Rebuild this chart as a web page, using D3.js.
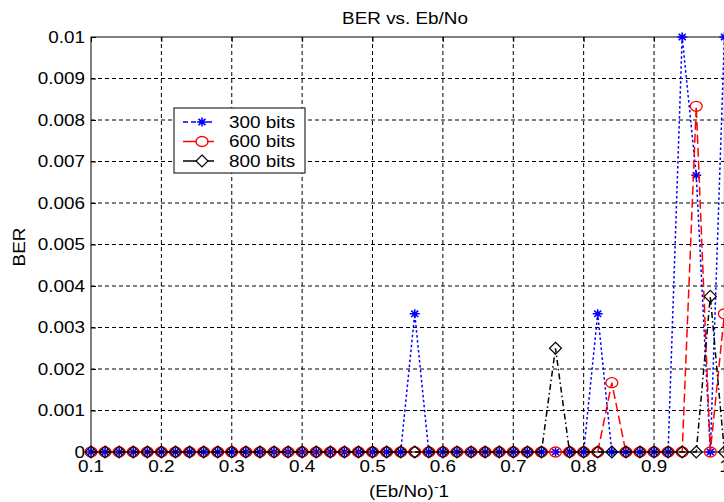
<!DOCTYPE html>
<html>
<head>
<meta charset="utf-8">
<script src="https://cdn.jsdelivr.net/npm/d3@7"></script>
<style>
  html, body { margin: 0; padding: 0; background: #fff; }
  text { font-family: "Liberation Sans", Arial, sans-serif; fill: #000; }
</style>
</head>
<body>
<div id="chart"></div>
<script>
// valeurs
const ebnoInv = [0.10, 0.12, 0.14, 0.16, 0.18, 0.20, 0.22, 0.24, 0.26, 0.28,
                 0.30, 0.32, 0.34, 0.36, 0.38, 0.40, 0.42, 0.44, 0.46, 0.48,
                 0.50, 0.52, 0.54, 0.56, 0.58, 0.60, 0.62, 0.64, 0.66, 0.68,
                 0.70, 0.72, 0.74, 0.76, 0.78, 0.80, 0.82, 0.84, 0.86, 0.88,
                 0.90, 0.92, 0.94, 0.96, 0.98, 1.00];
const ber300 = [0, 0, 0, 0, 0, 0, 0, 0, 0, 0,
                0, 0, 0, 0, 0, 0, 0, 0, 0, 0,
                0, 0, 0, 0.00333, 0, 0, 0, 0, 0, 0,
                0, 0, 0, 0, 0, 0, 0.00333, 0, 0, 0,
                0, 0, 0.01, 0.00667, 0, 0.01];
const ber600 = [0, 0, 0, 0, 0, 0, 0, 0, 0, 0,
                0, 0, 0, 0, 0, 0, 0, 0, 0, 0,
                0, 0, 0, 0, 0, 0, 0, 0, 0, 0,
                0, 0, 0, 0, 0, 0, 0, 0.00167, 0, 0,
                0, 0, 0, 0.00833, 0, 0.00333];
const ber800 = [0, 0, 0, 0, 0, 0, 0, 0, 0, 0,
                0, 0, 0, 0, 0, 0, 0, 0, 0, 0,
                0, 0, 0, 0, 0, 0, 0, 0, 0, 0,
                0, 0, 0, 0.0025, 0, 0, 0, 0, 0, 0,
                0, 0, 0, 0, 0.00375, 0];
const seriesNames = ['300 bits', '600 bits', '800 bits'];
const xTicks = [0.1, 0.2, 0.3, 0.4, 0.5, 0.6, 0.7, 0.8, 0.9, 1.0];
const xTickLabels = ['0.1', '0.2', '0.3', '0.4', '0.5', '0.6', '0.7', '0.8', '0.9', '1'];
const yTicks = [0, 0.001, 0.002, 0.003, 0.004, 0.005, 0.006, 0.007, 0.008, 0.009, 0.01];
const yTickLabels = ['0', '0.001', '0.002', '0.003', '0.004', '0.005', '0.006', '0.007', '0.008', '0.009', '0.01'];

const width = 724, height = 502;
const mLeft = 91, mTop = 37, mBottom = 452, mRight = 724.4;
const stretch = 1.18; // le texte de la figure est un peu étiré en largeur

const svg = d3.select('#chart').append('svg')
  .attr('width', width).attr('height', height)
  .attr('viewBox', [0, 0, width, height]);

const x = d3.scaleLinear().domain([0.1, 1.0]).range([mLeft, mRight]);
const y = d3.scaleLinear().domain([0, 0.01]).range([mBottom, mTop]);

function label(x0, y0, str, anchor, size, rotate) {
  const g = svg.append('g')
    .attr('transform', `translate(${x0},${y0})` + (rotate ? ` rotate(${rotate})` : '') + ` scale(${stretch},1)`);
  return g.append('text')
    .attr('text-anchor', anchor)
    .attr('font-size', size)
    .text(str);
}

// grille
svg.append('g').selectAll('line')
  .data(xTicks.filter(d => d > 0.1 && d < 1.0))
  .join('line')
  .attr('x1', d => x(d)).attr('x2', d => x(d))
  .attr('y1', mTop).attr('y2', mBottom)
  .attr('stroke', '#000').attr('stroke-dasharray', '4,3');
svg.append('g').selectAll('line')
  .data(yTicks.filter(d => d > 0 && d < 0.01))
  .join('line')
  .attr('x1', mLeft).attr('x2', mRight)
  .attr('y1', d => y(d)).attr('y2', d => y(d))
  .attr('stroke', '#000').attr('stroke-dasharray', '4,3');

// cadre et graduations intérieures
svg.append('rect')
  .attr('x', mLeft).attr('y', mTop)
  .attr('width', mRight - mLeft).attr('height', mBottom - mTop)
  .attr('fill', 'none').attr('stroke', '#000');

const axisLeft = svg.append('g').attr('transform', `translate(${mLeft},0)`)
  .call(d3.axisLeft(y).tickValues(yTicks).tickSize(-5).tickFormat(''));
axisLeft.select('.domain').remove();
const axisBottom = svg.append('g').attr('transform', `translate(0,${mBottom})`)
  .call(d3.axisBottom(x).tickValues(xTicks).tickSize(-5).tickFormat(''));
axisBottom.select('.domain').remove();
const axisTop = svg.append('g').attr('transform', `translate(0,${mTop})`)
  .call(d3.axisTop(x).tickValues(xTicks).tickSize(-5).tickFormat(''));
axisTop.select('.domain').remove();
svg.selectAll('.tick line').attr('stroke', '#000');

yTicks.forEach((d, i) => label(85, y(d) + 5.5, yTickLabels[i], 'end', 16));
xTicks.forEach((d, i) => label(x(d), 472, xTickLabels[i], 'middle', 16));

// titres
label(405, 24, 'BER vs. Eb/No', 'middle', 16);
const xl = label(409, 497, '', 'middle', 16);
xl.append('tspan').text('(Eb/No)');
xl.append('tspan').attr('dy', -6).attr('font-size', 12).text('-');
xl.append('tspan').attr('dy', 6).text('1');
label(25, 247, 'BER', 'middle', 16, -90);

// séries
const styles = [
  { color: '#0000ff', dash: '2.5,2.5', legendDash: '5,3', marker: 'star' },
  { color: '#ff0000', dash: '9,4', legendDash: null, marker: 'circle' },
  { color: '#000000', dash: '6,3,1.5,3', legendDash: null, marker: 'diamond' }
];
const allSeries = [ber300, ber600, ber800];

function drawMarker(g, kind, color) {
  if (kind === 'star') {
    g.append('path')
      .attr('d', 'M-5,0H5M0,-4.5V4.5M-3.5,-3.2L3.5,3.2M-3.5,3.2L3.5,-3.2')
      .attr('stroke', color).attr('stroke-width', 1.6).attr('fill', 'none');
  } else if (kind === 'circle') {
    g.append('ellipse').attr('rx', 6).attr('ry', 5)
      .attr('stroke', color).attr('stroke-width', 1.3).attr('fill', 'none');
  } else {
    g.append('path').attr('d', 'M0,-6L6,0L0,6L-6,0Z')
      .attr('stroke', color).attr('stroke-width', 1.2).attr('fill', 'none');
  }
}

const line = d3.line().x(d => x(d[0])).y(d => y(d[1]));

allSeries.forEach((vals, s) => {
  const st = styles[s];
  const pts = ebnoInv.map((v, i) => [v, vals[i]]);
  svg.append('path')
    .attr('d', line(pts))
    .attr('fill', 'none')
    .attr('stroke', st.color)
    .attr('stroke-width', 1.5)
    .attr('stroke-dasharray', st.dash);
  pts.forEach(p => {
    const g = svg.append('g').attr('transform', `translate(${x(p[0])},${y(p[1])})`);
    drawMarker(g, st.marker, st.color);
  });
});

// légende
const lg = svg.append('g');
lg.append('rect')
  .attr('x', 174).attr('y', 108).attr('width', 131).attr('height', 65)
  .attr('fill', '#fff').attr('stroke', '#000');
seriesNames.forEach((name, s) => {
  const st = styles[s];
  const ly = 122 + s * 19.5;
  lg.append('line')
    .attr('x1', 183).attr('x2', 214).attr('y1', ly).attr('y2', ly)
    .attr('stroke', st.color).attr('stroke-width', 1.5)
    .attr('stroke-dasharray', st.legendDash);
  const g = lg.append('g').attr('transform', `translate(202,${ly})`);
  if (st.marker !== 'star') g.append('rect').attr('x', -5).attr('y', -4).attr('width', 10).attr('height', 8).attr('fill', '#fff');
  drawMarker(g, st.marker, st.color);
  label(229, ly + 5.5, name, 'start', 16);
});
</script>
</body>
</html>
